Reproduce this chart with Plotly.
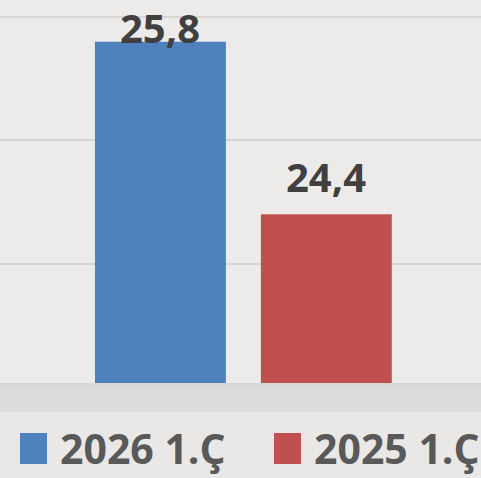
import plotly.graph_objects as go

# Data
series_names = ["2026 1.Ç", "2025 1.Ç"]
series_values = [25.8, 24.4]
series_colors = ["#4f81bd", "#c0504d"]
category = ["Q1"]

W, H = 481, 478
plot_bottom_px = 383  # y pixel of baseline
FONT = "Open Sans"

fig = go.Figure()
for name, val, col in zip(series_names, series_values, series_colors):
    fig.add_trace(go.Bar(x=category, y=[val], name=name, marker_color=col,
                         marker_line_width=0, showlegend=False))

# value labels (blue one sits tight under the top edge, like the original)
label_shift = [14, 38]
offsets = [-83, 83]
for val, dx, dy in zip(series_values, offsets, label_shift):
    fig.add_annotation(x=0, y=val, xref="x", yref="y", xshift=dx, yshift=dy,
                       text=f"{val:.1f}".replace(".", ","), showarrow=False,
                       yanchor="middle",
                       font=dict(family=FONT, size=40, color="#404040", weight="bold"))

# legend drawn by hand so the swatches can be large
def px2py(y):
    return (plot_bottom_px - y) / plot_bottom_px

sw_x = [20, 274]
for name, col, x0 in zip(series_names, series_colors, sw_x):
    fig.add_shape(type="rect", xref="paper", yref="paper",
                  x0=x0 / W, x1=(x0 + 27) / W, y0=px2py(464), y1=px2py(433),
                  fillcolor=col, line_width=0)
    fig.add_annotation(xref="paper", yref="paper", x=(x0 + 38) / W, y=px2py(448),
                       xanchor="left", yanchor="middle", showarrow=False, text=name,
                       font=dict(family=FONT, size=41, color="#595959", weight="bold"))

# darker band under the plot
fig.add_shape(type="rect", xref="paper", yref="paper", x0=0, x1=1,
              y0=px2py(412), y1=px2py(384), fillcolor="#dddcdb", line_width=0, layer="below")

fig.update_layout(
    width=W, height=H,
    margin=dict(l=0, r=0, t=0, b=H - plot_bottom_px),
    paper_bgcolor="#e9e8e7",
    plot_bgcolor="#edebe9",
    barmode="group",
    bargap=0.310,
    bargroupgap=0.211,
    xaxis=dict(range=[-0.506, 0.494], showticklabels=False, showgrid=False,
               zeroline=False, showline=True, linecolor="#d6d6d6", linewidth=2),
    yaxis=dict(range=[23.03, 26.14], dtick=1, showticklabels=False,
               gridcolor="#d6d6d6", gridwidth=2, zeroline=False),
)

fig.write_html("out.html", config={"displayModeBar": False},
               post_script="document.body.style.margin='0';document.body.style.overflow='hidden';")
